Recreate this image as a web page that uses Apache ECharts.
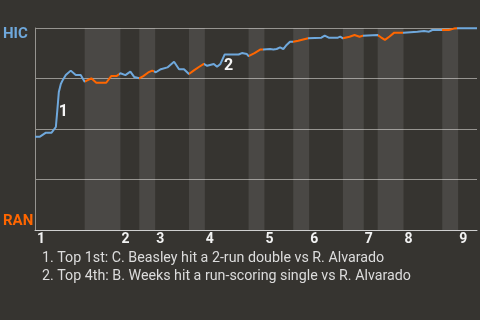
<!DOCTYPE html>
<html><head><meta charset="utf-8">
<script src="https://cdn.jsdelivr.net/npm/echarts@6/dist/echarts.min.js"></script>
<style>html,body{margin:0;padding:0;background:#363430;}#c{width:480px;height:320px;}</style>
</head><body><div id="c"></div>
<script>
// event position (plate-appearance units) and HIC win probability (%)
const eventX = [0,1,1.34,2.2,3.34,4.2,4.5,4.8,5.2,5.6,6.2,7.2,8.2,9.2,10,
  11.34,12.34,14.34,15.34,16.4,17.2,
  18.2,19.2,20,21,
  21.8,22.8,23.6,
  24.34,25.34,26.66,28,29,30,31,
  32,33,34,
  34.66,36,36.66,37.34,38.2,41,41.66,42.66,43,
  43.34,44.2,45.34,46,
  47.34,48,48.66,49.34,50,50.66,51.34,52,
  53,54,55,
  55.34,57.66,58.34,59.14,61,61.46,62,
  62.34,63.34,64.34,65.34,66,
  66.34,69,
  69.34,69.66,70.46,71.4,72.34,74.2,
  74.34,77,78.34,79.34,80,82,
  83.34,84.34,85,
  89];
const hicWinPct = [46.2,46.2,45.5,48.2,48.2,51.0,59.4,68.3,72.3,74.3,76.7,78.9,76.7,76.7,73.4,
  75.1,72.9,72.9,76.2,76.2,77.6,
  76.7,78.4,75.7,75.1,
  76.2,78.0,78.9,
  78.1,79.6,80.5,83.3,79.6,79.6,77.2,
  79.0,80.7,82.2,
  81.3,82.2,80.8,82.2,86.9,86.9,87.6,87.1,86.1,
  85.5,87.6,89.3,89.4,
  89.6,89.4,89.6,90.4,89.6,91.6,93.2,93.2,
  93.7,94.3,94.9,
  95.2,95.2,96.2,95.2,95.2,95.7,94.9,
  94.6,95.7,96.5,95.7,96.2,
  96.5,96.5,
  96.0,95.4,94.1,95.8,97.7,97.7,
  98.2,98.2,98.5,98.2,99.0,99.0,
  99.0,99.7,99.9,
  99.9];
// half-inning boundaries (event units)
const topStarts = [0,17,24,34,46,55,66,74,85];
const bottomStarts = [10,21,31,43,52,62,69,82];
const xMax = 89;
const teams = {top:'HIC', bottom:'RAN'};
// key events: index into data, label
const keyEvents = [{idx:6, label:'1'}, {idx:42, label:'2'}];
const notes = [
  '1. Top 1st: C. Beasley hit a 2-run double vs R. Alvarado',
  '2. Top 4th: B. Weeks hit a run-scoring single vs R. Alvarado'
];

const BLUE = '#6fa8dc', ORANGE = '#ff6600';
const data = eventX.map((x,i)=>[x, hicWinPct[i]]);
const bands = bottomStarts.map((s,i)=>[{xAxis:s},{xAxis:topStarts[i+1]+0.2}]);
const pieces = [];
topStarts.forEach((s,i)=>{
  const b = bottomStarts[i];
  const end = b !== undefined ? b : xMax;
  pieces.push({gte:s, lt:end, color:BLUE});
  if (b !== undefined) pieces.push({gte:b, lt:topStarts[i+1], color:ORANGE});
});
pieces[pieces.length-1].lte = xMax; delete pieces[pieces.length-1].lt;

const chart = echarts.init(document.getElementById('c'));
chart.setOption({
  backgroundColor:'#363430',
  animation:false,
  textStyle:{fontFamily:'Roboto'},
  title:{
    text: notes.join('\n'),
    left:37, top:244,
    textStyle:{color:'#dcdcdc', fontSize:14.25, fontWeight:'normal', lineHeight:18, fontFamily:'Roboto'}
  },
  grid:{left:35, right:0, top:28, bottom:90},
  xAxis:{
    type:'value', min:0, max:xMax, interval:1,
    axisLine:{show:true, lineStyle:{color:'#cfcfcf', width:1}},
    axisTick:{show:false},
    splitLine:{show:false},
    axisLabel:{
      color:'#f2f2f2', fontWeight:'bold', fontSize:14, align:'left', margin:2,
      padding:[0,0,0,2],
      formatter:v=>{const k=topStarts.indexOf(v); return k>=0 ? String(k+1) : '';}
    }
  },
  yAxis:{
    type:'value', min:0, max:100, interval:25,
    axisLine:{show:true, lineStyle:{color:'#969490'}},
    axisTick:{show:false},
    splitLine:{show:true, lineStyle:{color:'#969490', width:1}},
    axisLabel:{
      align:'left', margin:32,
      formatter:v=> v===100 ? '{h|'+teams.top+'}' : (v===0 ? '{r|'+teams.bottom+'}' : ''),
      rich:{
        h:{color:BLUE, fontWeight:'bold', fontSize:15, fontFamily:'Roboto', padding:[13,0,0,0]},
        r:{color:ORANGE, fontWeight:'bold', fontSize:15, fontFamily:'Roboto', padding:[0,0,18,0]}
      }
    }
  },
  visualMap:{show:false, type:'piecewise', dimension:0, seriesIndex:0, pieces:pieces},
  series:[{
    type:'line', data:data, showSymbol:false, symbol:'none',
    lineStyle:{width:2},
    markArea:{silent:true, itemStyle:{color:'rgba(255,255,255,0.1)'}, data:bands},
    markPoint:{
      symbol:'circle', symbolSize:0, silent:true,
      label:{show:true, color:'#f5f5f5', fontWeight:'bold', fontSize:16, fontFamily:'Roboto'},
      data:keyEvents.map((e,i)=>({
        coord:data[e.idx], value:e.label,
        label:{formatter:e.label, offset: i===0 ? [6,2] : [4,12]}
      }))
    }
  }]
});
</script></body></html>
